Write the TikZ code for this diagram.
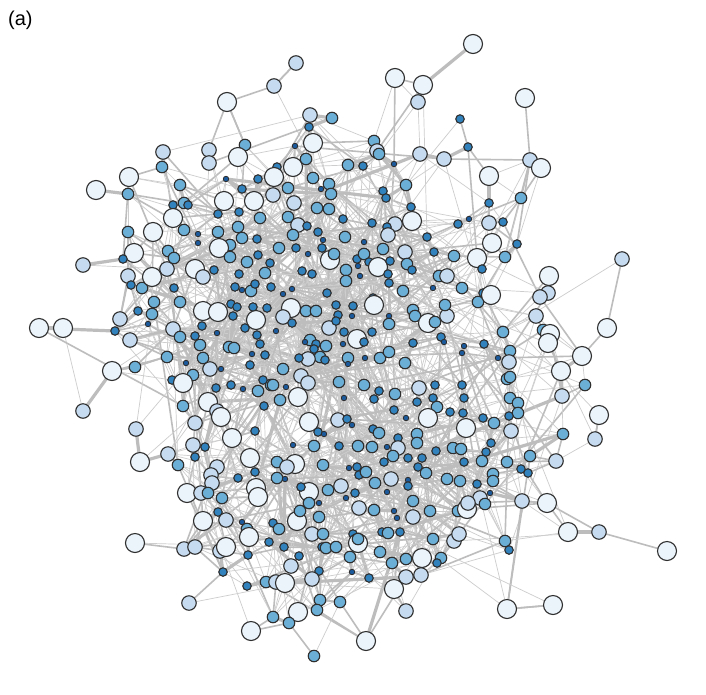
\documentclass[tikz,border=0pt]{standalone}
\usepackage{fontspec}
\setmainfont{Liberation Sans}
\definecolor{cA}{HTML}{EBF3FB}
\definecolor{cB}{HTML}{C6DBEF}
\definecolor{cC}{HTML}{6BAED6}
\definecolor{cD}{HTML}{3182BD}
\definecolor{cE}{HTML}{1B5A9C}
\definecolor{edgecol}{HTML}{BDBDBD}
\definecolor{edgethin}{HTML}{CDCDCD}
\definecolor{outline}{HTML}{2E2E2E}
\pgfdeclarelayer{edges}
\pgfsetlayers{edges,main}
\tikzset{
  vtx/.style={circle,draw=outline,line width=1.1pt,inner sep=0pt,outer sep=0pt},
  vA/.style={vtx,fill=cA,minimum size=19pt},
  vB/.style={vtx,fill=cB,minimum size=14.5pt},
  vC/.style={vtx,fill=cC,minimum size=11.5pt},
  vD/.style={vtx,fill=cD,minimum size=8.5pt},
  vE/.style={vtx,fill=cE,minimum size=5.5pt,line width=0.8pt},
  ethin/.style={draw=edgethin,line width=0.7pt},
  emid/.style={draw=edgecol,line width=1.6pt},
  ethick/.style={draw=edgecol,line width=3.2pt},
  lbl/.style={anchor=base west,inner sep=0pt,font=\fontsize{20}{23}\selectfont}
}
\newcount\vi \newcount\vj \newcount\dsq \newcount\hsh \newcount\bestd \newcount\bestj \newcount\nv
\def\nodelist{473/44/A,296/63/B,274/86/B,227/102/A,423/85/A,395/78/A,418/102/B,525/98/A,460/119/D,310/115/B,
332/118/C,309/127/D,313/143/A,295/146/E,374/141/C,377/151/B,379/154/C,394/164/E,363/166/D,348/165/C,
420/154/B,444/159/B,468/147/D,530/160/B,541/168/A,489/176/A,521/198/C,489/203/D,503/222/D,489/223/B,
492/243/A,517/244/D,293/167/A,277/167/D,274/177/A,273/195/B,306/159/C,313/178/C,321/189/E,329/184/C,
331/194/C,294/203/B,288/188/C,317/208/C,329/209/C,288/217/C,298/225/B,307/226/D,293/235/C,318/232/D,
323/240/E,345/237/C,343/219/D,372/223/D,364/242/E,383/191/D,386/198/D,406/185/C,411/207/D,412/221/A,
395/224/B,387/227/D,388/235/B,427/237/D,458/224/D,469/219/E,279/248/C,296/248/D,322/248/D,
245/145/C,238/157/A,209/150/B,209/163/B,163/152/B,162/167/C,129/177/A,96/190/A,128/194/C,180/185/C,
226/179/E,258/179/D,242/189/D,224/201/A,254/201/A,173/205/D,184/203/C,188/205/D,173/218/A,218/214/D,
239/212/D,260/218/C,128/232/C,153/232/A,184/230/C,198/234/E,198/243/E,218/232/C,238/227/C,242/238/C,
257/239/D,230/245/C,219/248/A,168/251/C,134/253/A,
83/265/B,63/328/A,39/328/A,123/259/D,128/276/B,131/285/D,142/288/C,152/277/A,167/269/B,174/258/C,
154/302/C,152/314/C,138/311/D,148/324/E,120/319/B,115/331/D,130/340/B,174/288/D,180/302/C,173/329/B,
180/337/C,167/357/C,186/363/E,112/371/A,135/367/C,195/269/A,203/277/B,214/270/D,203/311/A,218/312/A,
195/336/D,202/326/D,200/345/C,203/358/C,210/369/B,221/369/E,217/333/E,193/375/C,172/380/D,183/383/A,
83/411/B,183/406/C,208/402/A,217/411/B,221/417/A,195/423/B,136/429/B,216/388/D,231/385/D,243/389/E,
258/391/C,271/385/C,264/406/D,255/431/D,232/438/A,193/445/B,205/447/D,195/457/D,168/454/B,140/462/A,
250/458/A,178/465/C,230/257/C,247/262/C,258/255/D,270/263/D,239/274/D,265/273/C,235/287/D,242/290/E,
251/291/C,255/284/D,271/287/D,231/304/D,237/307/D,253/307/D,267/308/D,256/320/A,233/316/D,245/328/D,
257/335/D,260/344/D,252/354/E,265/355/D,229/347/C,234/348/C,250/365/D,263/380/D,
330/260/A,334/254/C,308/254/E,346/270/C,302/271/D,312/274/D,357/259/D,364/254/C,369/262/D,378/267/A,
383/249/C,390/261/D,388/274/D,360/276/E,358/266/E,346/281/C,389/283/D,405/252/B,407/264/C,412/270/D,
434/252/D,454/256/C,477/258/A,482/269/D,439/276/C,447/276/B,433/288/E,403/291/C,462/288/C,478/302/C,
483/293/D,283/294/E,292/289/E,327/293/D,373/298/D,374/305/A,291/308/A,283/317/B,306/311/C,316/311/C,
336/305/D,353/306/D,338/315/D,352/316/E,292/323/D,276/331/E,329/328/B,336/321/D,344/332/D,372/332/D,
389/316/E,389/324/C,413/310/C,415/316/C,428/323/A,435/322/C,447/316/B,445/305/C,441/337/D,444/342/E,
464/346/E,462/353/E,484/344/D,357/339/A,364/342/D,343/344/E,310/340/C,326/346/C,305/342/E,316/344/D,
314/349/D,320/357/C,325/360/D,348/358/C,348/364/E,365/358/E,380/358/C,389/352/C,405/363/C,413/343/D,
308/359/B,299/358/D,283/369/C,301/376/B,308/383/B,273/385/C,286/387/E,298/397/A,280/400/C,339/382/C,
364/385/C,379/391/D,395/394/C,344/398/E,374/399/D,419/388/B,435/385/D,462/385/D,417/402/D,433/398/D,
437/407/C,464/398/D,450/412/D,463/413/D,483/418/D,428/418/A,466/428/A,394/410/D,406/418/E,309/422/A,
338/420/B,347/419/D,352/425/E,318/432/D,324/434/E,373/429/D,379/433/C,398/438/D,417/434/C,417/443/C,
293/445/E,314/446/C,339/446/D,358/446/C,372/447/C,387/447/E,398/448/B,393/456/C,408/458/D,422/458/D,
436/451/D,453/448/C,461/449/C,464/462/D,482/461/C,295/464/A,323/465/C,384/462/D,277/462/C,
622/259/B,549/276/A,505/257/C,548/293/B,540/297/B,491/295/A,536/316/B,543/330/C,550/334/A,548/343/A,
607/328/A,582/356/A,503/332/C,498/358/E,510/351/C,509/362/B,507/379/C,510/377/C,561/371/A,585/385/C,
562/396/B,510/398/C,518/403/C,518/413/C,509/416/D,494/423/C,511/431/B,599/415/A,595/439/B,563/434/C,
491/443/D,486/452/D,530/456/C,507/462/C,556/461/B,
521/469/D,528/473/D,493/474/C,493/481/C,490/493/E,480/498/B,485/504/C,522/501/B,547/503/A,568/532/A,
599/532/B,667/551/A,505/541/C,509/550/D,553/605/A,507/609/A,
217/467/B,211/475/B,212/483/B,187/493/A,201/493/B,208/493/C,222/498/C,238/478/D,255/472/D,256/488/A,
258/497/A,203/521/A,218/512/D,226/520/B,242/522/E,247/529/C,273/523/D,249/537/A,269/542/D,135/543/A,
184/549/B,195/547/B,220/551/B,226/547/A,248/555/D,223/572/D,247/586/D,266/582/C,276/582/B,189/603/B,
273/617/C,251/631/A,
287/467/B,349/468/E,357/467/D,359/475/D,366/472/C,277/478/C,285/479/E,309/492/A,301/487/D,328/490/C,
341/486/B,355/493/D,346/498/E,309/503/C,319/503/E,375/483/C,391/479/B,408/480/E,408/486/D,418/467/D,
426/473/C,447/479/C,460/481/C,477/484/D,387/492/E,359/508/B,374/510/C,394/511/E,397/518/E,413/501/C,
413/517/B,430/511/C,458/511/C,467/509/A,468/503/B,297/521/A,300/511/C,319/517/C,279/529/C,312/534/B,
323/534/C,353/534/D,358/543/A,358/539/C,382/532/D,388/533/C,400/532/D,284/547/D,322/547/D,326/548/C,
336/547/C,433/539/C,454/541/B,459/534/B,299/556/D,350/557/C,380/552/C,392/563/C,406/559/C,422/558/A,
441/558/C,437/563/D,291/566/B,319/571/D,352/572/E,369/578/D,285/583/A,312/579/B,394/589/A,406/577/B,
421/575/B,320/600/C,317/610/C,340/602/C,298/612/A,289/623/C,406/611/B,366/641/A,314/656/C}
\def\computepair{%
  \dsq=\numexpr(\csname px\the\vi\endcsname-\csname px\the\vj\endcsname)*(\csname px\the\vi\endcsname-\csname px\the\vj\endcsname)%
    +(\csname py\the\vi\endcsname-\csname py\the\vj\endcsname)*(\csname py\the\vi\endcsname-\csname py\the\vj\endcsname)\relax
  \ifnum\dsq<\bestd \bestd=\dsq \bestj=\vj \fi
  \ifnum\vj>\vi
    \hsh=\numexpr\vi*\vi*31+\vj*\vj*17+\vi*\vj*13+\vi*71+\vj*29+7\relax
    \hsh=\numexpr\hsh-(\hsh/997)*997\relax
    \ifnum\hsh<0 \advance\hsh by 997 \fi
    \ifnum\dsq<2025
      \ifnum\hsh<300 \let\next\drawedge\fi
    \else\ifnum\dsq<8100
      \ifnum\hsh<80 \let\next\drawedge\fi
    \else\ifnum\dsq<28900
      \ifnum\hsh<22 \let\next\drawedge\fi
    \fi\fi\fi
  \fi}
\def\drawedge{%
  \hsh=\numexpr\vi*7+\vj*11+\vi*\vj*3+\vj*\vj\relax
  \hsh=\numexpr\hsh-(\hsh/10)*10\relax
  \ifnum\hsh<0 \advance\hsh by 10 \fi
  \ifnum\hsh<6 \def\estyle{ethin}\else\ifnum\hsh<9 \def\estyle{emid}\else\def\estyle{ethick}\fi\fi
  \edef\tmp{\noexpand\path[\estyle] (v\the\vi) -- (v\the\vj);}\tmp}
\def\edgeloop{%
  \advance\vj by 1
  \let\next\relax
  \ifnum\vj=\vi\else\computepair\fi
  \next
  \ifnum\vj<\nv \expandafter\edgeloop\fi}
\def\outerloop{%
  \advance\vi by 1
  \vj=0 \bestd=100000000 \bestj=0
  \edgeloop
  \hsh=\numexpr\vi*17+\bestj*5\relax
  \hsh=\numexpr\hsh-(\hsh/3)*3\relax
  \ifnum\hsh<0 \advance\hsh by 3 \fi
  \ifnum\hsh=0 \def\estyle{ethick}\else\def\estyle{emid}\fi
  \edef\tmp{\noexpand\path[\estyle] (v\the\vi) -- (v\the\bestj);}\tmp
  \ifnum\vi<\nv \expandafter\outerloop\fi}
\begin{document}
\begin{tikzpicture}[x=1pt,y=-1pt]
\useasboundingbox (0,0) rectangle (706,694);
\foreach \px/\py/\pc [count=\i] in \nodelist {
  \node[v\pc] (v\i) at (\px,\py) {};
  \expandafter\xdef\csname px\i\endcsname{\px}%
  \expandafter\xdef\csname py\i\endcsname{\py}%
  \global\nv=\i\relax
}
\begin{pgfonlayer}{edges}
\fill[white] (0,0) rectangle (706,694);
\vi=0
\outerloop
\end{pgfonlayer}
\node[lbl] (label) at (8,25) {(a)};
\end{tikzpicture}
\end{document}
